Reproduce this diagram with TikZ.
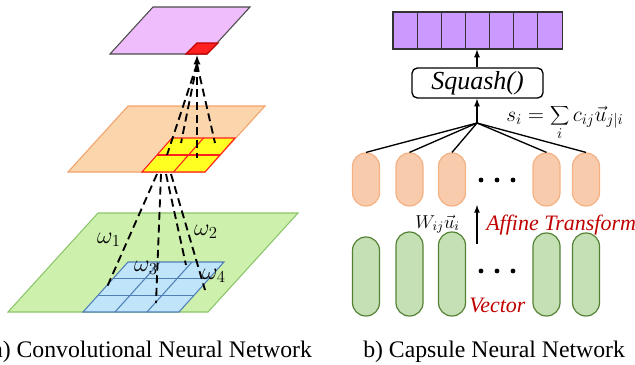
\documentclass[tikz,border=0pt]{standalone}
\usepackage{fix-cm}
\usepackage{fontspec}
\setmainfont{Liberation Serif}
\usetikzlibrary{calc}
\definecolor{mapviolet}{HTML}{EFBDFB}
\definecolor{maporange}{HTML}{FBD5AC}
\definecolor{maporangeedge}{HTML}{F2A36A}
\definecolor{mapgreen}{HTML}{CDF1AD}
\definecolor{mapgreenedge}{HTML}{8CC46A}
\definecolor{cellblue}{HTML}{C0E4FA}
\definecolor{cellblueedge}{HTML}{4F7FB5}
\definecolor{cellyellow}{HTML}{FFFF22}
\definecolor{cellred}{HTML}{FF2020}
\definecolor{capsorange}{HTML}{F8CBAD}
\definecolor{capsorangeedge}{HTML}{F4B183}
\definecolor{capsgreen}{HTML}{C5E0B4}
\definecolor{capsgreenedge}{HTML}{548235}
\definecolor{boxviolet}{HTML}{CC99FF}
\definecolor{textred}{HTML}{C00000}

\begin{document}
\begin{tikzpicture}[x=0.75pt,y=-0.75pt,
    dashline/.style={dash pattern=on 6pt off 3.5pt, line width=1.4pt},
    ocaps/.style={draw=capsorangeedge, fill=capsorange, line width=0.9pt, minimum width=20.25pt, minimum height=39.75pt, rounded corners=10pt, inner sep=0pt},
    gcaps/.style={draw=capsgreenedge, fill=capsgreen, line width=0.9pt, minimum width=20.25pt, rounded corners=10pt, inner sep=0pt},
    vbox/.style={draw=black!80, fill=boxviolet, line width=0.8pt, minimum width=18.1pt, minimum height=27.75pt, inner sep=0pt},
    caption/.style={font=\fontsize{17.8}{20}\selectfont, inner sep=0pt, anchor=base west}]
    \useasboundingbox (0,0) rectangle (635,364);

    % a) convolution: lower map
    \filldraw[fill=mapgreen, draw=mapgreenedge, line width=0.8pt] (98,213) -- (298,213) -- (208,312) -- (8,312) -- cycle;
    \coordinate (B1) at (128,262);
    \coordinate (B2) at (224,262);
    \coordinate (B3) at (179,312);
    \coordinate (B4) at (83,312);
    \filldraw[fill=cellblue, draw=cellblueedge, line width=0.8pt] (B1) -- (B2) -- (B3) -- (B4) -- cycle;
    \foreach \k in {1,2} {
        \draw[cellblueedge, line width=0.8pt] ($(B1)!\k/3!(B4)$) -- ($(B2)!\k/3!(B3)$);
        \draw[cellblueedge, line width=0.8pt] ($(B1)!\k/3!(B2)$) -- ($(B4)!\k/3!(B3)$);
    }
    \draw[dashline] (157,174) -- (107,287);
    \draw[dashline] (161,174) -- (156,303);
    \draw[dashline] (166,174) -- (186,265);
    \draw[dashline] (171,174) -- (205,290);
    \node (w1) at (109,240) {\fontsize{18}{20}\selectfont$\omega_1$};
    \node (w2) at (206,232) {\fontsize{18}{20}\selectfont$\omega_2$};
    \node (w3) at (146,268) {\fontsize{18}{20}\selectfont$\omega_3$};
    \node (w4) at (214,276) {\fontsize{18}{20}\selectfont$\omega_4$};

    % middle map
    \filldraw[fill=maporange, draw=maporangeedge, line width=0.8pt] (128,106) -- (265,106) -- (205,172) -- (68,172) -- cycle;
    \coordinate (Y1) at (172,138);
    \coordinate (Y2) at (235,138);
    \coordinate (Y3) at (205,172);
    \coordinate (Y4) at (142,172);
    \filldraw[fill=cellyellow, draw=cellred, line width=0.8pt] (Y1) -- (Y2) -- (Y3) -- (Y4) -- cycle;
    \draw[cellred, line width=0.8pt] ($(Y1)!0.5!(Y4)$) -- ($(Y2)!0.5!(Y3)$);
    \draw[cellred, line width=0.8pt] ($(Y1)!0.5!(Y2)$) -- ($(Y4)!0.5!(Y3)$);
    \coordinate (apex) at (197,64);
    \draw[dashline] (apex) -- (167,155);
    \draw[dashline] (apex) -- (181,143);
    \draw[dashline] (apex) -- (197,158);
    \draw[dashline] (apex) -- (215,143);

    % top map
    \filldraw[fill=mapviolet, draw=black!70, line width=0.8pt] (153,7) -- (250,7) -- (207,54) -- (110,54) -- cycle;
    \filldraw[fill=cellred, draw=red!75!black, line width=0.8pt] (197,43) -- (218,43) -- (207,54) -- (186,54) -- cycle;
    \draw[-latex, line width=1.4pt] (apex) -- (197,55);

    \node[caption] (capa) at (-8,357) {a) Convolutional Neural Network};

    % b) capsules
    \foreach \n in {1,...,7}
        \node[vbox] (p\n) at ({393+24.15*(\n-0.5)},30.5) {};
    \node[draw, rounded corners=4pt, line width=1pt, minimum width=98.25pt, minimum height=22.5pt, inner sep=0pt] (squash) at (477.5,83) {\fontsize{19.5}{22}\selectfont\textit{Squash()}};
    \foreach \n/\x in {1/366,2/409.5,3/452,4/546.5,5/586}
        \node[ocaps] (o\n) at (\x,179.5) {};
    \foreach \n/\x/\y/\h in {1/366/276.5/59.25pt,2/409.5/274/63pt,3/452/274/63pt,4/546.5/274.5/62.25pt,5/586/274.5/62.25pt}
        \node[gcaps, minimum height=\h] (g\n) at (\x,\y) {};
    \coordinate (fan) at (477,123);
    \foreach \n in {1,...,5}
        \draw[line width=1pt] (fan) -- (o\n.north);
    \draw[-latex, line width=1pt] (fan) -- (fan |- squash.south);
    \draw[-latex, line width=1pt] (squash.north -| fan) -- (fan |- p4.south);
    \node[inner sep=0pt, anchor=base west] (sum) at (506,121) {\fontsize{16}{19}\selectfont$\displaystyle s_i=\sum_i c_{ij}\vec{u}_{j|i}$};
    \foreach \x in {481,497,513} {
        \fill (\x,180) circle (1.8pt);
        \fill (\x,271) circle (1.8pt);
    }
    \coordinate (aff0) at (477,244);
    \coordinate (aff1) at (477,205);
    \draw[-latex, line width=1pt] (aff0) -- (aff1);
    \node[inner sep=0pt, anchor=base east] (wu) at (460,228) {\fontsize{14}{16}\selectfont$W_{ij}\vec{u}_i$};
    \node[inner sep=0pt, anchor=base west, text=textred] (affine) at (486,230) {\fontsize{16.5}{19}\selectfont\textit{Affine Transform}};
    \node[inner sep=0pt, anchor=base west, text=textred] (vector) at (469,312) {\fontsize{16.5}{19}\selectfont\textit{Vector}};

    \node[caption] (capb) at (363,357) {b) Capsule Neural Network};
\end{tikzpicture}
\end{document}
